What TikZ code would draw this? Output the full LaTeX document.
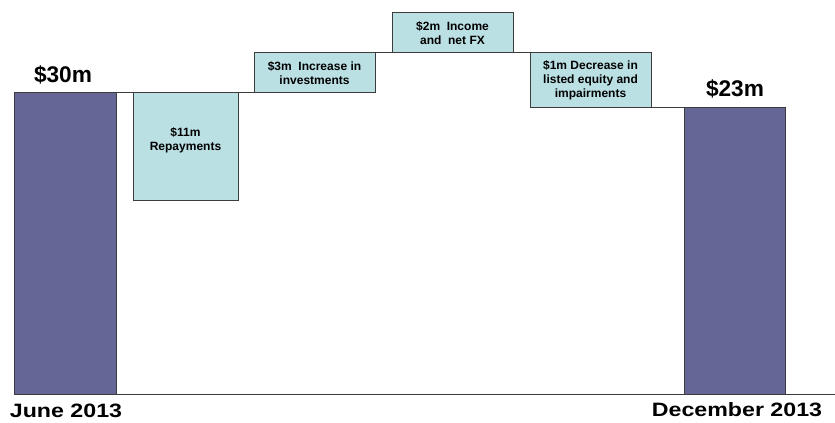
\documentclass[tikz,border=0pt]{standalone}
\usepackage{fontspec}
\usepackage{graphicx}
\setmainfont{Liberation Sans}
\definecolor{barpurple}{RGB}{102,102,150}
\definecolor{boxcyan}{RGB}{187,224,228}
\definecolor{edgegray}{RGB}{60,60,60}
\begin{document}
\begin{tikzpicture}[x=0.75pt,y=-0.75pt,
  bar/.style={draw=edgegray,line width=0.75pt,fill=barpurple,inner sep=0pt,outer sep=0pt},
  stepbox/.style={draw=edgegray,line width=0.75pt,fill=boxcyan,inner sep=0pt,outer sep=0pt},
  boxtext/.style={font=\fontsize{9}{10.5}\selectfont\bfseries,align=center,inner sep=0pt},
  biglabel/.style={font=\fontsize{17}{20}\selectfont\bfseries,inner sep=0pt},
  datelabel/.style={font=\fontsize{14.5}{16}\selectfont\bfseries,inner sep=0pt},
  link/.style={draw=edgegray,line width=0.75pt}]
\useasboundingbox (0,0) rectangle (835,423);
\fill[white] (0,0) rectangle (835,423);
% bars and boxes
\node[bar,minimum width=76.5pt,minimum height=226.5pt] (start) at (65,244) {};
\node[stepbox,minimum width=78.75pt,minimum height=81pt] (rep) at (185.5,147) {};
\node[stepbox,minimum width=90.75pt,minimum height=30pt] (inv) at (314.5,73) {};
\node[stepbox,minimum width=90.75pt,minimum height=30pt] (inc) at (452.5,33) {};
\node[stepbox,minimum width=90.75pt,minimum height=41.25pt] (dec) at (590.5,80.5) {};
\node[bar,minimum width=75.75pt,minimum height=215.25pt] (end) at (734.5,251.5) {};
% box texts
\node[boxtext] (reptext) at (185.5,140) {\$11m\\Repayments};
\node[boxtext] (invtext) at (inv.center) {\$3m\ \ Increase in\\investments};
\node[boxtext] (inctext) at (inc.center) {\$2m\ \ Income\\and\ \ net FX};
\node[boxtext] (dectext) at (dec.center) {\$1m Decrease in\\listed equity and\\impairments};
% connectors
\coordinate (axisend) at (835,395);
\draw[link] (start.north east) -- (rep.north west);
\draw[link] (rep.north east) -- (inv.south west);
\draw[link] (inv.north east) -- (inc.south west);
\draw[link] (inc.south east) -- (dec.north west);
\draw[link] (dec.south east) -- (end.north west);
\draw[link] (start.south west) -- (axisend);
% labels
\node[biglabel] (v30) at (63,75) {\$30m};
\node[biglabel] (v23) at (735,89) {\$23m};
\node[datelabel] (june) at (66,411) {\scalebox{1.2}[1]{June 2013}};
\node[datelabel] (dec13) at (737,410) {\scalebox{1.2}[1]{December 2013}};
\end{tikzpicture}
\end{document}
